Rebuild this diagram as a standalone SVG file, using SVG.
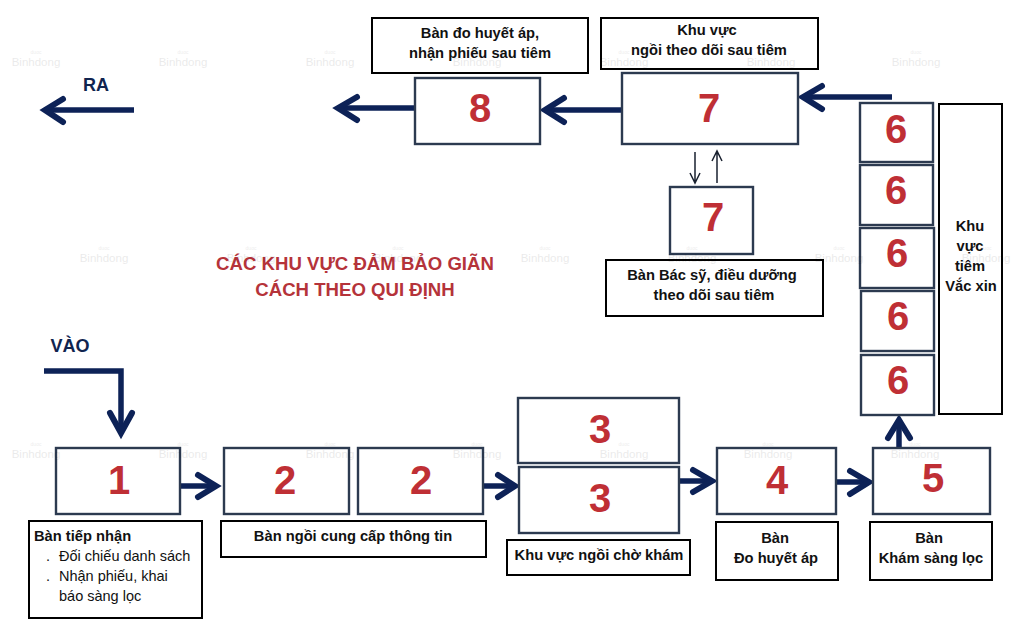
<svg xmlns="http://www.w3.org/2000/svg" width="1024" height="620" viewBox="0 0 1024 620">
<style>
text{font-family:"Liberation Sans",Arial,sans-serif}
.box{fill:#fff;stroke:#2c3a50;stroke-width:2.4}
.lab{fill:#fff;stroke:#000;stroke-width:2}
.num{fill:#bf2f35;font-size:40px;font-weight:700;text-anchor:middle}
.t{fill:#111;font-size:14.7px;font-weight:700;text-anchor:middle}
.r{fill:#111;font-size:14.5px}
.nav{fill:#10244f;font-size:18px;font-weight:700;text-anchor:middle}
.red{fill:#b5333a;font-size:18.6px;font-weight:700;text-anchor:middle}
.wa{fill:#000;opacity:.08;font-size:5px;text-anchor:middle}
.wb{fill:#000;opacity:.08;font-size:11.5px;text-anchor:middle}
.ln{fill:none;stroke:#0d2257;stroke-width:5.5}
.hd{fill:none;stroke:#0d2257;stroke-width:6;stroke-linecap:round;stroke-linejoin:miter}
.thin{fill:none;stroke:#1a2230;stroke-width:1.5}
</style>
<rect width="1024" height="620" fill="#fff"/>
<g id="connectors">
<path class="ln" d="M134 110H46"/><path class="hd" d="M63 99L45 110L63 122"/>
<path class="ln" d="M415 108H338"/><path class="hd" d="M357 97L338 108L357 120"/>
<path class="ln" d="M622 110H546"/><path class="hd" d="M564 98L545 110L564 122"/>
<path class="ln" d="M892 97H804"/><path class="hd" d="M822 86L803 97L822 109"/>
<path class="thin" d="M695 152V182M690 173L695 183L700 173"/>
<path class="thin" d="M717 183V151M712 161L717 151L722 161"/>
<path class="ln" d="M44 371H121V431"/><path class="hd" d="M110 413L121 433L132 413"/>
<path class="ln" d="M181 486H215"/><path class="hd" d="M198 475L216 486L198 497"/>
<path class="ln" d="M483 486H514"/><path class="hd" d="M498 475L515 486L498 497"/>
<path class="ln" d="M680 481H712"/><path class="hd" d="M693 470L712 481L693 492"/>
<path class="ln" d="M836 482H868"/><path class="hd" d="M850 471L869 482L850 494"/>
<path class="ln" d="M899 448V422"/><path class="hd" d="M888 438L899 420L910 438"/>
</g>
<g id="n1"><rect class="box" x="56" y="448" width="124" height="66"/><text class="num" x="119" y="494">1</text></g>
<g id="n1-label"><rect class="lab" x="29" y="521" width="173" height="97"/>
<text class="t" x="34" y="541" style="text-anchor:start">Bàn tiếp nhận</text>
<text class="r" x="46" y="561">.</text><text class="r" x="59" y="561">Đối chiếu danh sách</text>
<text class="r" x="46" y="581">.</text><text class="r" x="59" y="581">Nhận phiếu, khai</text>
<text class="r" x="59" y="601">báo sàng lọc</text></g>
<g id="n2a"><rect class="box" x="224" y="448" width="125" height="66"/><text class="num" x="285" y="494">2</text></g>
<g id="n2b"><rect class="box" x="358" y="448" width="125" height="66"/><text class="num" x="421" y="494">2</text></g>
<g id="n2-label"><rect class="lab" x="221" y="521" width="265" height="36"/><text class="t" x="353" y="541">Bàn ngồi cung cấp thông tin</text></g>
<g id="n3a"><rect class="box" x="518" y="398" width="161" height="65"/><text class="num" x="600" y="443">3</text></g>
<g id="n3b"><rect class="box" x="519" y="467" width="160" height="66"/><text class="num" x="600" y="512">3</text></g>
<g id="n3-label"><rect class="lab" x="507" y="540" width="183" height="35"/><text class="t" x="599" y="560">Khu vực ngồi chờ khám</text></g>
<g id="n4"><rect class="box" x="717" y="448" width="119" height="66"/><text class="num" x="777" y="494">4</text></g>
<g id="n4-label"><rect class="lab" x="716" y="522" width="122" height="58"/><text class="t" x="775" y="543">Bàn</text><text class="t" x="776" y="563">Đo huyết áp</text></g>
<g id="n5"><rect class="box" x="873" y="448" width="117" height="66"/><text class="num" x="933" y="492">5</text></g>
<g id="n5-label"><rect class="lab" x="870" y="522" width="122" height="58"/><text class="t" x="929" y="543">Bàn</text><text class="t" x="931" y="563">Khám sàng lọc</text></g>
<g id="n6a"><rect class="box" x="860" y="103" width="73" height="59"/><text class="num" x="896" y="143">6</text></g>
<g id="n6b"><rect class="box" x="860" y="165" width="73" height="60"/><text class="num" x="896" y="204">6</text></g>
<g id="n6c"><rect class="box" x="860" y="228" width="74" height="60"/><text class="num" x="897" y="267">6</text></g>
<g id="n6d"><rect class="box" x="861" y="291" width="73" height="60"/><text class="num" x="898" y="330">6</text></g>
<g id="n6e"><rect class="box" x="861" y="355" width="73" height="60"/><text class="num" x="898" y="394">6</text></g>
<g id="n6-label"><rect class="lab" x="939" y="104" width="63" height="310"/><text class="t" x="970" y="231">Khu</text><text class="t" x="970" y="251">vực</text><text class="t" x="970" y="271">tiêm</text><text class="t" x="971" y="291">Vắc xin</text></g>
<g id="n7a"><rect class="box" x="622" y="73" width="176" height="71"/><text class="num" x="709" y="122">7</text></g>
<g id="n7a-label"><rect class="lab" x="601" y="18" width="217" height="51"/><text class="t" x="707" y="35">Khu vực</text><text class="t" x="709" y="55">ngồi theo dõi sau tiêm</text></g>
<g id="n7b"><rect class="box" x="670" y="187" width="83" height="67"/><text class="num" x="713" y="231">7</text></g>
<g id="n7b-label"><rect class="lab" x="606" y="260" width="217" height="56"/><text class="t" x="712" y="280">Bàn Bác sỹ, điều dưỡng</text><text class="t" x="714" y="300">theo dõi sau tiêm</text></g>
<g id="n8"><rect class="box" x="415" y="78" width="125" height="66"/><text class="num" x="480" y="122">8</text></g>
<g id="n8-label"><rect class="lab" x="372" y="18" width="216" height="55"/><text class="t" x="480" y="38">Bàn đo huyết áp,</text><text class="t" x="480" y="58">nhận phiếu sau tiêm</text></g>
<g id="notes">
<text class="nav" x="96" y="91">RA</text>
<text class="nav" x="70" y="352">VÀO</text>
<text class="red" x="355" y="270">CÁC KHU VỰC ĐẢM BẢO GIÃN</text>
<text class="red" x="355" y="296">CÁCH THEO QUI ĐỊNH</text>
</g>
<g id="watermarks">
<text class="wa" x="36" y="54">duoc</text><text class="wb" x="36" y="66">Binhdong</text>
<text class="wa" x="183" y="54">duoc</text><text class="wb" x="183" y="66">Binhdong</text>
<text class="wa" x="330" y="54">duoc</text><text class="wb" x="330" y="66">Binhdong</text>
<text class="wa" x="477" y="54">duoc</text><text class="wb" x="477" y="66">Binhdong</text>
<text class="wa" x="624" y="54">duoc</text><text class="wb" x="624" y="66">Binhdong</text>
<text class="wa" x="771" y="54">duoc</text><text class="wb" x="771" y="66">Binhdong</text>
<text class="wa" x="916" y="54">duoc</text><text class="wb" x="916" y="66">Binhdong</text>
<text class="wa" x="104" y="250">duoc</text><text class="wb" x="104" y="262">Binhdong</text>
<text class="wa" x="251" y="250">duoc</text><text class="wb" x="251" y="262">Binhdong</text>
<text class="wa" x="398" y="250">duoc</text><text class="wb" x="398" y="262">Binhdong</text>
<text class="wa" x="545" y="250">duoc</text><text class="wb" x="545" y="262">Binhdong</text>
<text class="wa" x="692" y="250">duoc</text><text class="wb" x="692" y="262">Binhdong</text>
<text class="wa" x="839" y="250">duoc</text><text class="wb" x="839" y="262">Binhdong</text>
<text class="wa" x="986" y="250">duoc</text><text class="wb" x="986" y="262">Binhdong</text>
<text class="wa" x="36" y="446">duoc</text><text class="wb" x="36" y="458">Binhdong</text>
<text class="wa" x="183" y="446">duoc</text><text class="wb" x="183" y="458">Binhdong</text>
<text class="wa" x="330" y="446">duoc</text><text class="wb" x="330" y="458">Binhdong</text>
<text class="wa" x="477" y="446">duoc</text><text class="wb" x="477" y="458">Binhdong</text>
<text class="wa" x="624" y="446">duoc</text><text class="wb" x="624" y="458">Binhdong</text>
<text class="wa" x="768" y="446">duoc</text><text class="wb" x="768" y="458">Binhdong</text>
<text class="wa" x="915" y="446">duoc</text><text class="wb" x="915" y="458">Binhdong</text>
</g>
</svg>
